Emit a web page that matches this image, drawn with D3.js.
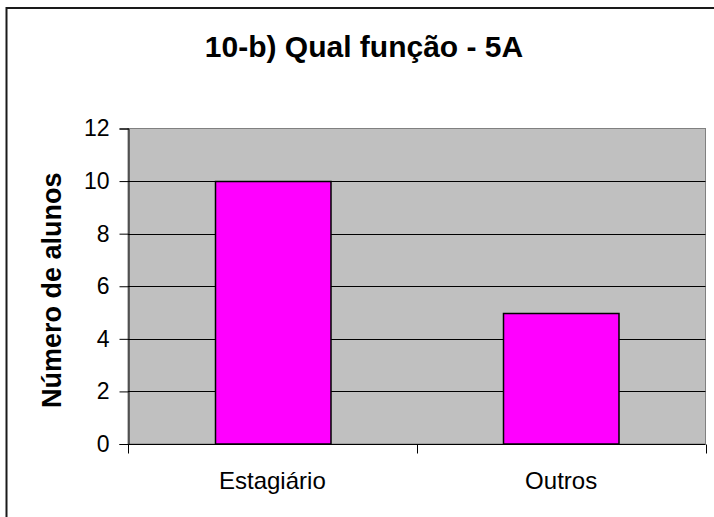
<!DOCTYPE html>
<html>
<head>
<meta charset="utf-8">
<script src="https://cdn.jsdelivr.net/npm/d3@7"></script>
<style>
  html, body { margin: 0; padding: 0; background: #fff; }
  svg { display: block; }
  text { font-family: "Liberation Sans", Arial, sans-serif; }
</style>
</head>
<body>
<svg id="chart" width="714" height="517"></svg>
<script>
const categories = ["Estagiário", "Outros"];
const values = [10, 5];
const yTicks = [0, 2, 4, 6, 8, 10, 12];
const title = "10-b) Qual função - 5A";
const yTitle = "Número de alunos";

const svg = d3.select("#chart");
const W = 714, H = 517;
const plot = { left: 128, top: 128.5, right: 705.5, bottom: 444 };

// outer frame (only top and left visible)
svg.append("path")
  .attr("d", `M6.5,${H + 2} V8 H${W + 2}`)
  .attr("fill", "none")
  .attr("stroke", "#1a1a1a")
  .attr("stroke-width", 2);

const x = d3.scaleBand().domain(categories)
  .range([plot.left, plot.right]).paddingInner(0.6).paddingOuter(0.3);
const xOuter = d3.scaleBand().domain(categories).range([plot.left, plot.right]);
const y = d3.scaleLinear().domain([0, 12]).range([plot.bottom, plot.top]);

// plot area
svg.append("rect")
  .attr("x", plot.left).attr("y", plot.top)
  .attr("width", plot.right - plot.left).attr("height", plot.bottom - plot.top)
  .attr("fill", "#C0C0C0").attr("stroke", "#808080").attr("stroke-width", 1);

// gridlines
svg.append("g").selectAll("line")
  .data(yTicks.filter(d => d > 0 && d < 12))
  .join("line")
  .attr("x1", plot.left).attr("x2", plot.right)
  .attr("y1", d => Math.round(y(d)) + 0.5).attr("y2", d => Math.round(y(d)) + 0.5)
  .attr("stroke", "#000").attr("stroke-width", 1);

// bars
svg.append("g").selectAll("rect")
  .data(values)
  .join("rect")
  .attr("x", (d, i) => Math.round(x(categories[i])) + 0.5)
  .attr("y", d => Math.round(y(d)) + 0.5)
  .attr("width", x.bandwidth())
  .attr("height", d => y(0) - Math.round(y(d)) - 0.5)
  .attr("fill", "#FF00FF")
  .attr("stroke", "#000").attr("stroke-width", 1.5);

// y axis
const yAxis = d3.axisLeft(y).tickValues(yTicks).tickSize(9).tickPadding(10);
const gy = svg.append("g").attr("transform", `translate(${plot.left + 0.5},0)`).call(yAxis);
gy.select(".domain").attr("stroke", "#000");
gy.selectAll(".tick line").attr("stroke", "#000");
gy.selectAll(".tick text")
  .attr("font-size", 23).attr("fill", "#000")
  .attr("font-family", "'Liberation Sans', Arial, sans-serif");

// x axis
const gx = svg.append("g").attr("transform", `translate(0,${plot.bottom + 0.5})`);
gx.append("line")
  .attr("x1", plot.left).attr("x2", plot.right)
  .attr("stroke", "#000");
const boundaries = [plot.left, ...categories.map(c => xOuter(c) + xOuter.bandwidth())];
gx.selectAll(".xt").data(boundaries).join("line")
  .attr("class", "xt")
  .attr("x1", d => Math.round(d) + 0.5).attr("x2", d => Math.round(d) + 0.5)
  .attr("y1", 0).attr("y2", 9)
  .attr("stroke", "#000");
gx.selectAll("text").data(categories).join("text")
  .attr("x", d => xOuter(d) + xOuter.bandwidth() / 2)
  .attr("y", 44)
  .attr("text-anchor", "middle")
  .attr("font-size", 24)
  .attr("fill", "#000")
  .text(d => d);

// title
svg.append("text")
  .attr("x", 364).attr("y", 57)
  .attr("text-anchor", "middle")
  .attr("font-size", 30).attr("font-weight", "bold")
  .text(title);

// y title
svg.append("text")
  .attr("transform", `translate(61,${(plot.top + plot.bottom) / 2 + 4}) rotate(-90)`)
  .attr("text-anchor", "middle")
  .attr("font-size", 27).attr("font-weight", "bold")
  .text(yTitle);
</script>
</body>
</html>
